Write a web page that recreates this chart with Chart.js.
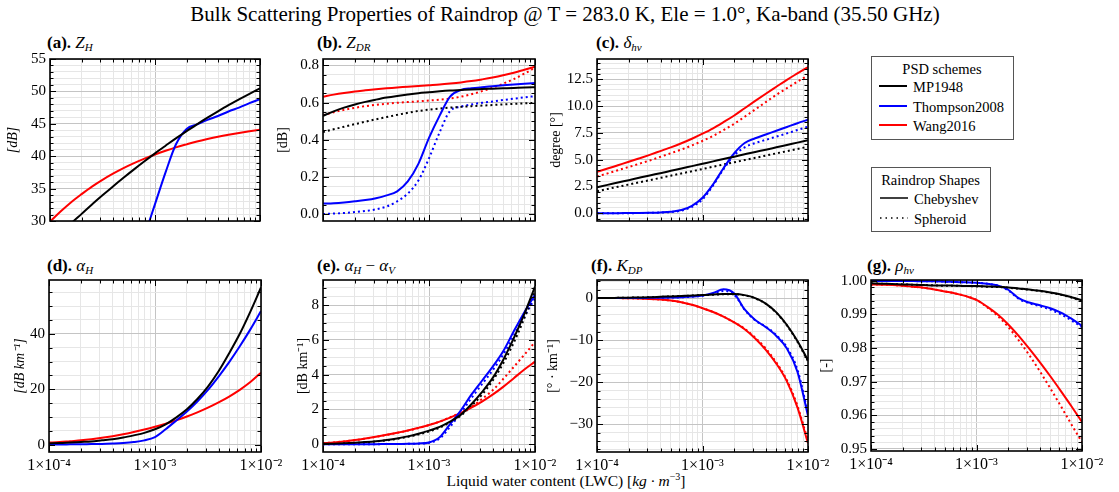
<!DOCTYPE html>
<html>
<head>
<meta charset="utf-8">
<script src="https://cdn.jsdelivr.net/npm/chart.js@4.4.1/dist/chart.umd.min.js"></script>
<style>
  body { margin: 0; background: #fff; font-family: 'Liberation Serif', serif; }
  #wrap { position: relative; width: 1119px; height: 492px; overflow: hidden; background: #fff; }
  canvas.p { position: absolute; }
  .txt { position: absolute; white-space: nowrap; color: #000; line-height: 1; }
  .pt { font-size: 17px; }
  .pt sub { font-size: 11px; vertical-align: -3px; }
  .leg { position: absolute; border: 1.5px solid #555; background: #fff; box-sizing: border-box; font-size: 14.5px; }
  .leg .row { position: absolute; left: 0; white-space: nowrap; line-height: 1; }
  .leg svg { position: absolute; }
</style>
</head>
<body>
<div id="wrap">
  <div class="txt" style="left:0;width:1130px;top:4px;text-align:center;font-size:21px">Bulk Scattering Properties of Raindrop @ T = 283.0 K, Ele = 1.0°, Ka-band (35.50 GHz)</div>

  <div class="txt pt" style="left:47px;top:34px"><b>(a).</b> <i>Z<sub>H</sub></i></div>
  <div class="txt pt" style="left:317px;top:34px"><b>(b).</b> <i>Z<sub>DR</sub></i></div>
  <div class="txt pt" style="left:596px;top:34px"><b>(c).</b> <i>δ<sub>hv</sub></i></div>
  <div class="txt pt" style="left:47px;top:257px"><b>(d).</b> <i>α<sub>H</sub></i></div>
  <div class="txt pt" style="left:317px;top:257px"><b>(e).</b> <i>α<sub>H</sub></i> − <i>α<sub>V</sub></i></div>
  <div class="txt pt" style="left:591px;top:257px"><b>(f).</b> <i>K<sub>DP</sub></i></div>
  <div class="txt pt" style="left:867px;top:257px"><b>(g).</b> <i>ρ<sub>hv</sub></i></div>

  <div class="txt" style="left:0;width:1132px;top:472px;text-align:center;font-size:15.5px">Liquid water content (LWC) [<i>kg · m</i><sup style="font-size:10px">−3</sup>]</div>

  <div class="leg" style="left:871px;top:56px;width:143px;height:84px">
    <div class="row" style="top:5px;width:140px;text-align:center">PSD schemes</div>
    <svg style="left:7px;top:24px" width="28" height="10"><line x1="0" y1="5" x2="28" y2="5" stroke="#000" stroke-width="2"/></svg>
    <div class="row" style="left:41px;top:23px">MP1948</div>
    <svg style="left:7px;top:44px" width="28" height="10"><line x1="0" y1="5" x2="28" y2="5" stroke="#0000ff" stroke-width="2"/></svg>
    <div class="row" style="left:41px;top:43px">Thompson2008</div>
    <svg style="left:7px;top:63px" width="28" height="10"><line x1="0" y1="5" x2="28" y2="5" stroke="#ff0000" stroke-width="2"/></svg>
    <div class="row" style="left:41px;top:62px">Wang2016</div>
  </div>

  <div class="leg" style="left:871px;top:167px;width:120px;height:65px">
    <div class="row" style="top:5px;width:117px;text-align:center">Raindrop Shapes</div>
    <svg style="left:8px;top:25px" width="28" height="10"><line x1="0" y1="5" x2="28" y2="5" stroke="#000" stroke-width="1.5"/></svg>
    <div class="row" style="left:42px;top:24px">Chebyshev</div>
    <svg style="left:8px;top:45px" width="28" height="10"><line x1="0" y1="5" x2="28" y2="5" stroke="#000" stroke-width="1.5" stroke-dasharray="1.5 4"/></svg>
    <div class="row" style="left:42px;top:44px">Spheroid</div>
  </div>
</div>

<script>
// x: liquid water content [kg m^-3]
const lwc = [1.0e-4, 1.26e-4, 1.58e-4, 2.0e-4, 2.51e-4, 3.16e-4, 3.98e-4, 5.01e-4, 6.31e-4, 7.94e-4,
             1.0e-3, 1.26e-3, 1.58e-3, 2.0e-3, 2.51e-3, 3.16e-3, 3.98e-3, 5.01e-3, 6.31e-3, 7.94e-3, 1.0e-2];

const xTicks = [1e-4, 2e-4, 3e-4, 4e-4, 5e-4, 6e-4, 7e-4, 8e-4, 9e-4,
                1e-3, 2e-3, 3e-3, 4e-3, 5e-3, 6e-3, 7e-3, 8e-3, 9e-3, 1e-2];
const decadeTicks = [1e-4, 1e-3, 1e-2];
const decadeLabels = ['1×10⁻⁴', '1×10⁻³', '1×10⁻²'];

// (a) Z_H [dB]
const zhMP = [26.50, 28.07, 29.60, 31.10, 32.55, 33.96, 35.34, 36.67, 37.97, 39.22, 40.44, 41.62, 42.76, 43.86, 44.92, 45.94, 46.92, 47.87, 48.77, 49.63, 50.46];
const zhTh = [-5, -2, 1, 4, 8, 12, 15, 19, 23, 27.7, 32.6, 37.5, 41.8, 44.2, 44.9, 45.6, 46.2, 46.9, 47.5, 48.2, 48.8];
const zhWa = [29.90, 31.46, 32.87, 34.15, 35.31, 36.35, 37.30, 38.16, 38.93, 39.63, 40.27, 40.84, 41.36, 41.83, 42.26, 42.64, 42.99, 43.30, 43.58, 43.84, 44.07];

// (b) Z_DR [dB]
const zdrMP  = [0.529, 0.553, 0.573, 0.590, 0.604, 0.616, 0.627, 0.636, 0.644, 0.651, 0.656, 0.661, 0.665, 0.668, 0.671, 0.673, 0.675, 0.677, 0.679, 0.681, 0.683];
const zdrMPs = [0.441, 0.456, 0.470, 0.484, 0.497, 0.510, 0.522, 0.534, 0.545, 0.555, 0.562, 0.568, 0.573, 0.577, 0.581, 0.584, 0.587, 0.590, 0.593, 0.596, 0.598];
const zdrTh  = [0.056, 0.058, 0.062, 0.068, 0.075, 0.085, 0.100, 0.122, 0.175, 0.270, 0.410, 0.530, 0.632, 0.668, 0.677, 0.683, 0.688, 0.693, 0.698, 0.702, 0.706];
const zdrThs = [0.000, 0.002, 0.005, 0.010, 0.016, 0.025, 0.040, 0.068, 0.110, 0.180, 0.300, 0.440, 0.555, 0.578, 0.590, 0.599, 0.606, 0.614, 0.621, 0.628, 0.635];
const zdrWa  = [0.632, 0.643, 0.652, 0.660, 0.666, 0.672, 0.677, 0.681, 0.686, 0.690, 0.694, 0.698, 0.703, 0.709, 0.716, 0.725, 0.735, 0.747, 0.761, 0.777, 0.793];
const zdrWas = [0.532, 0.548, 0.561, 0.572, 0.581, 0.588, 0.594, 0.599, 0.603, 0.607, 0.611, 0.616, 0.622, 0.632, 0.645, 0.662, 0.680, 0.702, 0.727, 0.756, 0.788];

// (c) delta_hv [deg]
const dhvMP  = [2.43, 2.65, 2.87, 3.09, 3.31, 3.53, 3.74, 3.96, 4.18, 4.40, 4.62, 4.84, 5.06, 5.28, 5.50, 5.72, 5.93, 6.15, 6.37, 6.59, 6.81];
const dhvMPs = [2.06, 2.27, 2.47, 2.68, 2.89, 3.09, 3.30, 3.51, 3.72, 3.92, 4.13, 4.34, 4.55, 4.76, 4.96, 5.17, 5.38, 5.59, 5.79, 6.00, 6.21];
const dhvTh  = [0.00, 0.00, 0.01, 0.02, 0.03, 0.05, 0.08, 0.14, 0.30, 0.70, 1.45, 2.70, 4.20, 5.60, 6.55, 7.00, 7.35, 7.70, 8.05, 8.40, 8.72];
const dhvThs = [0.00, 0.00, 0.00, 0.01, 0.02, 0.04, 0.07, 0.12, 0.25, 0.60, 1.30, 2.60, 4.10, 5.40, 6.15, 6.55, 6.85, 7.15, 7.45, 7.77, 8.07];
const dhvWa  = [3.86, 4.17, 4.48, 4.80, 5.12, 5.45, 5.80, 6.15, 6.53, 6.95, 7.42, 7.93, 8.50, 9.12, 9.80, 10.48, 11.15, 11.80, 12.45, 13.05, 13.64];
const dhvWas = [3.43, 3.72, 4.02, 4.32, 4.62, 4.93, 5.26, 5.60, 5.95, 6.33, 6.75, 7.22, 7.75, 8.35, 9.00, 9.68, 10.37, 11.05, 11.67, 12.27, 12.87];

// (d) alpha_H [dB km^-1]
const ahMP = [0.5, 0.6, 0.8, 1.0, 1.2, 1.6, 2.0, 2.6, 3.4, 4.3, 5.6, 7.4, 9.8, 12.8, 16.5, 21.0, 26.5, 33.0, 40.0, 48.0, 56.7];
const ahTh = [0.1, 0.1, 0.15, 0.2, 0.25, 0.3, 0.45, 0.65, 1.0, 1.6, 2.8, 5.6, 8.7, 12.0, 15.6, 19.8, 24.6, 29.8, 35.5, 41.6, 48.2];
const ahWa = [0.8, 1.0, 1.3, 1.6, 2.0, 2.5, 3.1, 3.8, 4.6, 5.5, 6.5, 7.6, 8.8, 10.2, 11.7, 13.4, 15.3, 17.4, 19.8, 22.6, 26.0];

// (e) alpha_H - alpha_V [dB km^-1]
const adMP  = [0.02, 0.03, 0.05, 0.08, 0.12, 0.17, 0.24, 0.33, 0.45, 0.60, 0.78, 1.00, 1.30, 1.70, 2.30, 3.00, 3.80, 4.85, 6.10, 7.50, 9.07];
const adMPs = [0.02, 0.03, 0.05, 0.07, 0.11, 0.16, 0.22, 0.31, 0.42, 0.56, 0.73, 0.95, 1.25, 1.65, 2.20, 2.85, 3.65, 4.65, 5.85, 7.25, 8.80];
const adTh  = [0.0, 0.0, 0.0, 0.0, 0.0, 0.0, 0.01, 0.01, 0.02, 0.04, 0.10, 0.40, 1.15, 1.95, 2.85, 3.65, 4.45, 5.35, 6.50, 7.60, 8.60];
const adThs = [0.0, 0.0, 0.0, 0.0, 0.0, 0.0, 0.01, 0.01, 0.02, 0.03, 0.08, 0.32, 1.00, 1.80, 2.65, 3.45, 4.25, 5.15, 6.25, 7.35, 8.40];
const adWa  = [0.06, 0.10, 0.16, 0.24, 0.33, 0.43, 0.54, 0.66, 0.79, 0.94, 1.10, 1.30, 1.53, 1.80, 2.10, 2.45, 2.85, 3.30, 3.80, 4.30, 4.75];
const adWas = [0.06, 0.10, 0.16, 0.23, 0.32, 0.42, 0.53, 0.65, 0.78, 0.93, 1.10, 1.30, 1.55, 1.83, 2.15, 2.60, 3.10, 3.75, 4.45, 5.15, 5.88];

// (f) K_DP [deg km^-1]
const kdpMP  = [0.0, 0.0, 0.05, 0.1, 0.15, 0.2, 0.3, 0.4, 0.5, 0.6, 0.75, 0.85, 0.95, 0.95, 0.7, 0.0, -1.3, -3.4, -6.4, -10.2, -14.8];
const kdpMPs = [0.0, 0.0, 0.05, 0.1, 0.15, 0.2, 0.3, 0.4, 0.5, 0.6, 0.7, 0.8, 0.9, 0.9, 0.65, -0.05, -1.35, -3.5, -6.5, -10.4, -15.0];
const kdpTh  = [0.0, 0.0, 0.0, 0.0, 0.02, 0.05, 0.08, 0.12, 0.2, 0.35, 0.6, 1.2, 2.1, 1.1, -2.7, -5.2, -6.9, -9.0, -12.0, -17.5, -28.0];
const kdpThs = [0.0, 0.0, 0.0, 0.0, 0.02, 0.05, 0.08, 0.12, 0.2, 0.33, 0.55, 1.0, 1.7, 0.8, -2.8, -5.3, -6.8, -8.8, -11.7, -17.0, -27.3];
const kdpWa  = [0.0, 0.0, 0.0, -0.05, -0.1, -0.2, -0.35, -0.6, -1.0, -1.6, -2.4, -3.3, -4.4, -5.8, -7.4, -9.6, -12.3, -15.6, -19.8, -26.0, -34.5];
const kdpWas = [0.0, 0.0, 0.0, -0.05, -0.1, -0.2, -0.35, -0.6, -1.0, -1.6, -2.4, -3.3, -4.4, -5.8, -7.3, -9.4, -12.0, -15.3, -19.5, -25.6, -34.0];

// (g) rho_hv [-]
const rhoMP  = [0.9992, 0.9991, 0.9990, 0.9989, 0.9988, 0.9987, 0.9986, 0.9986, 0.9985, 0.9984, 0.9984, 0.9983, 0.9982, 0.9980, 0.9977, 0.9974, 0.9970, 0.9965, 0.9959, 0.9951, 0.9942];
const rhoMPs = [0.9992, 0.9991, 0.9990, 0.9989, 0.9988, 0.9987, 0.9986, 0.9985, 0.9985, 0.9984, 0.9983, 0.9982, 0.9981, 0.9979, 0.9976, 0.9973, 0.9969, 0.9964, 0.9958, 0.9950, 0.9940];
const rhoTh  = [0.9999, 0.9999, 0.9999, 0.9999, 0.9999, 0.9998, 0.9998, 0.9997, 0.9996, 0.9995, 0.9994, 0.9991, 0.9986, 0.9973, 0.9948, 0.9935, 0.9927, 0.9918, 0.9905, 0.9887, 0.9866];
const rhoThs = [0.9999, 0.9999, 0.9999, 0.9999, 0.9999, 0.9998, 0.9998, 0.9997, 0.9996, 0.9995, 0.9994, 0.9991, 0.9986, 0.9971, 0.9946, 0.9933, 0.9924, 0.9914, 0.9900, 0.9882, 0.9862];
const rhoWa  = [0.9989, 0.9988, 0.9987, 0.9985, 0.9982, 0.9979, 0.9974, 0.9968, 0.9962, 0.9954, 0.9943, 0.9923, 0.9900, 0.9870, 0.9836, 0.9798, 0.9758, 0.9716, 0.9672, 0.9627, 0.9580];
const rhoWas = [0.9989, 0.9988, 0.9987, 0.9985, 0.9982, 0.9979, 0.9974, 0.9968, 0.9962, 0.9954, 0.9943, 0.9921, 0.9896, 0.9862, 0.9823, 0.9779, 0.9731, 0.9680, 0.9627, 0.9573, 0.9520];

const BLACK = '#000000', BLUE = '#0000ff', RED = '#ff0000';
const FONT = "'Liberation Serif', serif";
const GRID_MAJOR = '#c4c4c4';
const GRID_MINOR = '#e6e6e6';

const wrap = document.getElementById('wrap');

function isDecade(v) {
  const l = Math.log10(v);
  return Math.abs(l - Math.round(l)) < 1e-6;
}
function isMajor(v, step) {
  const r = v / step;
  return Math.abs(r - Math.round(r)) < 1e-6;
}

function framePlugin(yMajor) {
  return {
    id: 'frame',
    afterDraw(chart) {
      const { ctx, chartArea: a } = chart;
      const xs = chart.scales.x, ys = chart.scales.y;
      ctx.save();
      ctx.strokeStyle = '#000';
      ctx.lineWidth = 1;
      ctx.beginPath();
      xs.ticks.forEach(t => {
        const p = Math.round(xs.getPixelForValue(t.value)) + 0.5;
        const len = isDecade(t.value) ? 6 : 3.5;
        ctx.moveTo(p, a.bottom); ctx.lineTo(p, a.bottom - len);
        ctx.moveTo(p, a.top); ctx.lineTo(p, a.top + len);
      });
      ys.ticks.forEach(t => {
        const p = Math.round(ys.getPixelForValue(t.value)) + 0.5;
        const len = isMajor(t.value, yMajor) ? 6 : 3.5;
        ctx.moveTo(a.left, p); ctx.lineTo(a.left + len, p);
        ctx.moveTo(a.right, p); ctx.lineTo(a.right - len, p);
      });
      ctx.stroke();
      ctx.lineWidth = 1.6;
      ctx.strokeRect(a.left, a.top, a.right - a.left, a.bottom - a.top);
      ctx.restore();
    }
  };
}

function makePanel(p) {
  const padT = 10, padR = 30;
  const xH = p.showX ? 28 : 2;
  const cLeft = Math.round(p.yTitleX - 8);
  const yW = p.l - cLeft;
  const w = p.r - cLeft + padR;
  const h = (p.b - p.t) + padT + xH;

  const canvas = document.createElement('canvas');
  canvas.className = 'p';
  canvas.width = w; canvas.height = h;
  canvas.style.left = cLeft + 'px';
  canvas.style.top = (p.t - padT) + 'px';
  canvas.style.width = w + 'px';
  canvas.style.height = h + 'px';
  wrap.appendChild(canvas);

  const yTicks = [];
  for (let k = Math.ceil(p.yMin / p.yMinor - 1e-9); k * p.yMinor <= p.yMax + 1e-9; k++) {
    yTicks.push(Math.round(k * p.yMinor * 1e6) / 1e6);
  }

  const datasets = p.series.map(s => ({
    data: s.data,
    borderColor: s.color,
    borderWidth: 2,
    borderDash: s.dotted ? [2, 3] : [],
    pointRadius: 0,
    cubicInterpolationMode: 'monotone',
    fill: false,
    order: s.dotted ? 1 : 0
  }));

  new Chart(canvas, {
    type: 'line',
    data: { labels: lwc, datasets },
    options: {
      responsive: false,
      animation: false,
      events: [],
      layout: { padding: { left: 0, top: padT, right: padR, bottom: 0 } },
      plugins: { legend: { display: false }, tooltip: { enabled: false } },
      scales: {
        x: {
          type: 'logarithmic',
          min: 1e-4, max: 1e-2,
          afterBuildTicks: s => { s.ticks = xTicks.map(v => ({ value: v })); },
          afterFit: s => { s.height = xH; },
          border: { display: false },
          grid: {
            drawTicks: false,
            color: c => isDecade(c.tick.value) ? GRID_MAJOR : GRID_MINOR,
            lineWidth: 1
          },
          ticks: {
            display: p.showX,
            autoSkip: false,
            maxRotation: 0,
            padding: 4,
            color: '#000',
            font: { family: FONT, size: 16 },
            callback: v => {
              const i = decadeTicks.findIndex(d => Math.abs(v / d - 1) < 1e-6);
              return i >= 0 ? decadeLabels[i] : '';
            }
          }
        },
        y: {
          type: 'linear',
          min: p.yMin, max: p.yMax,
          afterBuildTicks: s => { s.ticks = yTicks.map(v => ({ value: v })); },
          afterFit: s => { s.width = yW; },
          border: { display: false },
          grid: {
            drawTicks: false,
            color: c => isMajor(c.tick.value, p.yMajor) ? GRID_MAJOR : GRID_MINOR,
            lineWidth: 1
          },
          title: {
            display: true,
            text: p.yTitle,
            color: '#000',
            padding: { top: 0, bottom: 0 },
            font: { family: FONT, size: 14, style: p.yTitleItalic ? 'italic' : 'normal' }
          },
          ticks: {
            autoSkip: false,
            padding: 4,
            color: '#000',
            font: { family: FONT, size: 15 },
            callback: v => {
              if (!isMajor(v, p.yMajor)) return '';
              const s = v.toFixed(p.dec);
              return v < 0 ? '−' + s.slice(1) : s;
            }
          }
        }
      }
    },
    plugins: [framePlugin(p.yMajor)]
  });
}

const sol = (data, color) => ({ data, color, dotted: false });
const dot = (data, color) => ({ data, color, dotted: true });

makePanel({ l: 50, t: 56, r: 260, b: 232, yTitleX: 13, yTitle: '[dB]', yTitleItalic: true,
  yMin: 30, yMax: 55, yMajor: 5, yMinor: 1, dec: 0, showX: false,
  series: [sol(zhMP, BLACK), sol(zhTh, BLUE), sol(zhWa, RED)] });

makePanel({ l: 323, t: 56, r: 535, b: 232, yTitleX: 283, yTitle: '[dB]',
  yMin: -0.038, yMax: 0.835, yMajor: 0.2, yMinor: 0.05, dec: 1, showX: false,
  series: [sol(zdrMP, BLACK), sol(zdrTh, BLUE), sol(zdrWa, RED),
           dot(zdrMPs, BLACK), dot(zdrThs, BLUE), dot(zdrWas, RED)] });

makePanel({ l: 597, t: 56, r: 808, b: 232, yTitleX: 556, yTitle: 'degree [°]',
  yMin: -0.72, yMax: 14.39, yMajor: 2.5, yMinor: 0.5, dec: 1, showX: false,
  series: [sol(dhvMP, BLACK), sol(dhvTh, BLUE), sol(dhvWa, RED),
           dot(dhvMPs, BLACK), dot(dhvThs, BLUE), dot(dhvWas, RED)] });

makePanel({ l: 49, t: 277, r: 261, b: 452, yTitleX: 20, yTitle: '[dB km⁻¹]', yTitleItalic: true,
  yMin: -2.6, yMax: 59.4, yMajor: 20, yMinor: 5, dec: 0, showX: true,
  series: [sol(ahMP, BLACK), sol(ahTh, BLUE), sol(ahWa, RED)] });

makePanel({ l: 323, t: 277, r: 535, b: 452, yTitleX: 303, yTitle: '[dB km⁻¹]',
  yMin: -0.45, yMax: 9.45, yMajor: 2, yMinor: 0.5, dec: 0, showX: true,
  series: [sol(adMP, BLACK), sol(adTh, BLUE), sol(adWa, RED),
           dot(adMPs, BLACK), dot(adThs, BLUE), dot(adWas, RED)] });

makePanel({ l: 597, t: 277, r: 808, b: 452, yTitleX: 553, yTitle: '[° · km⁻¹]',
  yMin: -36.6, yMax: 4.3, yMajor: 10, yMinor: 2, dec: 0, showX: true,
  series: [sol(kdpMP, BLACK), sol(kdpTh, BLUE), sol(kdpWa, RED),
           dot(kdpMPs, BLACK), dot(kdpThs, BLUE), dot(kdpWas, RED)] });

makePanel({ l: 871, t: 277, r: 1082, b: 451, yTitleX: 826, yTitle: '[-]',
  yMin: 0.9494, yMax: 1.0002, yMajor: 0.01, yMinor: 0.002, dec: 2, showX: true,
  series: [sol(rhoMP, BLACK), sol(rhoTh, BLUE), sol(rhoWa, RED),
           dot(rhoMPs, BLACK), dot(rhoThs, BLUE), dot(rhoWas, RED)] });
</script>
</body>
</html>
